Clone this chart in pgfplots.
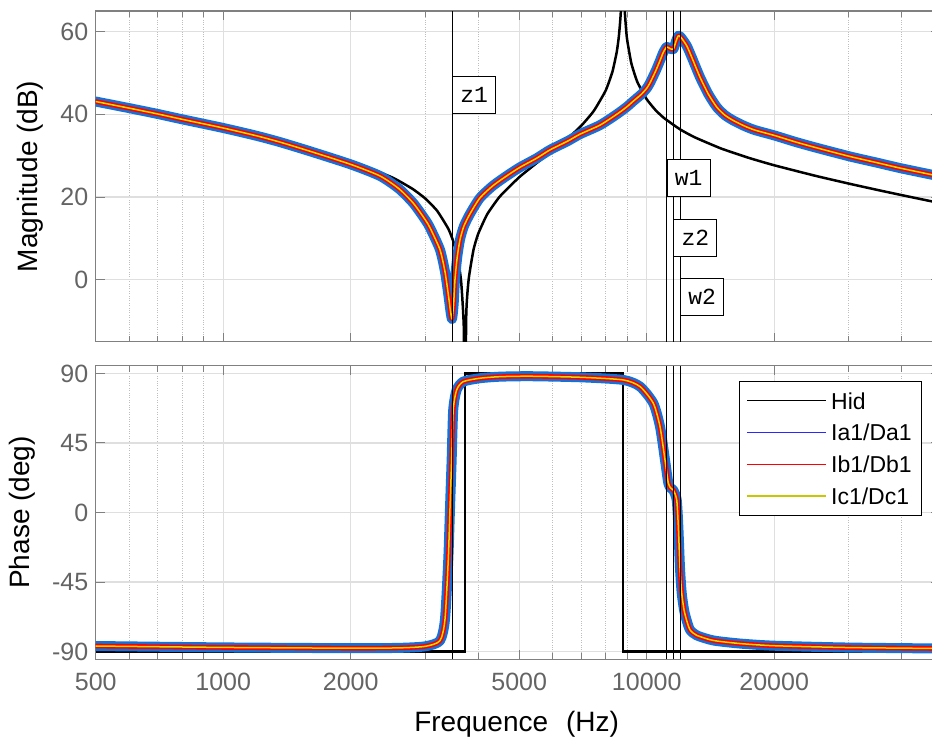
\documentclass[border=0pt]{standalone}
\usepackage{fontspec}
\setmainfont{Liberation Sans}
\newfontfamily\monofont{Liberation Mono}
\usepackage{pgfplots}
\usepackage{pgfplotstable}
\pgfplotsset{compat=1.18}
\definecolor{bandblue}{RGB}{24,112,214}
\definecolor{legblue}{RGB}{40,40,255}
\definecolor{myyellow}{RGB}{232,222,0}
\definecolor{legyellow}{RGB}{200,200,0}
\definecolor{axgray}{RGB}{128,128,128}
\definecolor{ticklab}{RGB}{100,100,100}
\definecolor{gridgray}{RGB}{223,223,223}
\definecolor{minorgray}{RGB}{190,190,190}

\pgfplotstableread{
f db
500 43.12
600 41.48
700 40.07
800 38.83
1000 36.69
1200 34.86
1500 32.43
2000 28.71
2500 24.79
2800 21.96
3000 19.64
3200 16.67
3400 12.34
3500 9.05
3600 3.75
3650 -0.94
3700 -11.85
3720 -40
3750 -8.30
3800 0.21
3900 7.24
4000 11.09
4200 15.80
4500 20.13
5000 24.79
5500 28.23
6000 31.22
6500 34.12
7000 37.20
7500 40.82
8000 45.76
8300 50.31
8500 55.19
8600 59.13
8700 66.26
8780 90
8850 67.6
8950 59.96
9000 57.76
9200 52.32
9500 47.87
10000 43.65
10500 40.99
11000 39.07
12000 36.34
13000 34.42
15000 31.72
17500 29.41
20000 27.68
25000 25.14
30000 23.25
35000 21.73
40000 20.46
49270 18.53
}\hidmag

\pgfplotstableread{
f db
500 43.1
600 41.5
700 40.1
800 38.8
1000 36.7
1200 34.8
1360 33.3
1600 31.1
2000 27.9
2345 25.1
2600 22.0
2812 18.5
3000 14.5
3077 12.6
3249 7.3
3339 2.0
3400 -3.5
3440 -7.5
3470 -9.5
3500 -6.0
3526 0.0
3570 5.5
3624 9.7
3700 12.9
3825 15.9
4040 19.8
4342 22.8
4700 25.3
5022 27.2
5500 29.4
5910 31.4
6500 33.5
6958 35.2
7759 37.4
8494 40.0
8971 41.8
9299 43.2
9700 44.8
10000 46.3
10178 47.6
10500 50.5
10750 53.0
10945 55.0
11150 56.3
11350 55.9
11560 55.8
11720 57.6
11875 59.0
12050 58.6
12430 56.6
12800 53.6
13360 49.0
14000 44.8
14650 41.7
15300 39.8
16020 38.5
17000 37.2
18000 36.2
20010 34.9
22500 33.3
25200 31.9
30210 29.8
35000 28.3
39660 27.0
47110 25.4
49270 25.0
}\colmag

\pgfplotstableread{
f deg
500 -90
3720 -90
3720 90
8780 90
8780 -90
49270 -90
}\hidph

\pgfplotstableread{
f deg
500 -86.4
1000 -87.3
2000 -87.8
2600 -87.6
3000 -86.6
3249 -83.0
3339 -69.4
3400 -30.6
3431 1.7
3463 34.0
3493 66.4
3558 79.3
3688 84.7
4040 86.9
4503 87.9
5302 88.2
7000 87.5
8805 85.8
9643 81.5
10366 70.7
10750 55.6
11046 34.0
11247 19.0
11400 15.8
11557 14.5
11772 8.2
11875 -9.0
11985 -36.0
12095 -52.0
12250 -63.0
12432 -70.0
12660 -76.0
13126 -79.5
14366 -82.8
16613 -84.8
20000 -86.2
30000 -87.4
49270 -88.0
}\colph

\tikzset{
  hid/.style={black, line width=2.5pt},
  cb/.style={bandblue, line width=10pt, line join=round, line cap=round},
  cr/.style={red, line width=4.7pt, line join=round, line cap=round},
  cy/.style={myyellow, line width=1.5pt, line join=round},
  vl/.style={black, line width=1pt},
  lab/.style={draw=black, line width=1pt, fill=white, anchor=west, inner sep=0pt,
    minimum width=43pt, minimum height=37pt, font=\monofont\fontsize{23}{26}\selectfont},
}

\begin{document}
\begin{tikzpicture}
\useasboundingbox (0pt,0pt) rectangle (932pt,-740pt);

% ---------------- Magnitude ----------------
\begin{axis}[
  xmode=log, xmin=500, xmax=49270,
  scale only axis, width=844.3pt, height=330.7pt,
  at={(95.7pt,-11pt)}, anchor=north west,
  axis line style={axgray, line width=1.2pt},
  tick style={axgray, line width=1pt},
  major tick length=9pt, minor tick length=6pt,
  tick align=inside, xtick pos=both, ytick pos=both,
  xtick={500,1000,2000,5000,10000,20000},
  minor xtick={600,700,800,900,3000,4000,6000,7000,8000,9000,30000,40000},
  xmajorgrids, xminorgrids, ymajorgrids,
  major grid style={gridgray, line width=1.2pt},
  minor grid style={minorgray, dotted, line width=0.9pt},
  tick label style={font=\fontsize{25}{30}\selectfont, text=ticklab},
  yticklabel style={xshift=-4pt},
  label style={font=\fontsize{28}{34}\selectfont, text=black},
  ylabel style={at={(axis description cs:-0.0778,0.5)}, anchor=center},
  ymin=-15, ymax=65,
  ytick={0,20,40,60}, yticklabels={0,20,40,60},
  xticklabels={},
  ylabel={Magnitude (dB)},
]
\addplot[hid, smooth, tension=0.3] table[x=f,y=db] {\hidmag};
\addplot[cb, smooth, tension=0.4] table[x=f,y=db] {\colmag};
\addplot[cr, smooth, tension=0.4] table[x=f,y=db] {\colmag};
\addplot[cy, smooth, tension=0.4] table[x=f,y=db] {\colmag};
\addplot[vl] coordinates {(3474,-15) (3474,65)};
\addplot[vl] coordinates {(11150,-15) (11150,65)};
\addplot[vl] coordinates {(11560,-15) (11560,65)};
\addplot[vl] coordinates {(11990,-15) (11990,65)};
\node[lab] at (axis cs:3474,44.6) {z1};
\node[lab] at (axis cs:11150,24.7) {w1};
\node[lab] at (axis cs:11560,10.1) {z2};
\node[lab] at (axis cs:11990,-4.2) {w2};
\end{axis}

% ---------------- Phase ----------------
\begin{axis}[
  xmode=log, xmin=500, xmax=49270,
  scale only axis, width=844.3pt, height=293.6pt,
  at={(95.7pt,-365.7pt)}, anchor=north west,
  axis line style={axgray, line width=1.2pt},
  tick style={axgray, line width=1pt},
  major tick length=9pt, minor tick length=6pt,
  tick align=inside, xtick pos=both, ytick pos=both,
  xtick={500,1000,2000,5000,10000,20000},
  minor xtick={600,700,800,900,3000,4000,6000,7000,8000,9000,30000,40000},
  xmajorgrids, xminorgrids, ymajorgrids,
  major grid style={gridgray, line width=1.2pt},
  minor grid style={minorgray, dotted, line width=0.9pt},
  tick label style={font=\fontsize{25}{30}\selectfont, text=ticklab},
  yticklabel style={xshift=-4pt},
  xticklabel style={yshift=-10pt},
  label style={font=\fontsize{28}{34}\selectfont, text=black},
  ylabel style={at={(axis description cs:-0.0867,0.5)}, anchor=center},
  ymin=-95, ymax=95,
  ytick={-90,-45,0,45,90}, yticklabels={-90,-45,0,45,90},
  xticklabels={500,1000,2000,5000,10000,20000},
  ylabel={Phase (deg)},
  xlabel={Frequence\hspace{18pt}(Hz)},
  xlabel style={at={(axis description cs:0.4986,-0.2204)}, anchor=center},
  legend style={at={(0.9783,0.949)}, anchor=north east, draw=black, line width=1pt,
    fill=white, font=\fontsize{23}{27}\selectfont, inner xsep=7.5pt, inner ysep=3.8pt,
    row sep=0pt, column sep=2pt,
    nodes={inner xsep=2pt, inner ysep=0pt, text height=24.1pt, text depth=7.6pt}},
  legend cell align=left,
  legend image code/.code={\draw[#1] (0pt,0pt) -- (79pt,0pt);},
]
\addplot[hid, forget plot] table[x=f,y=deg] {\hidph};
\addplot[cb, forget plot, smooth, tension=0.4] table[x=f,y=deg] {\colph};
\addplot[cr, forget plot, smooth, tension=0.4] table[x=f,y=deg] {\colph};
\addplot[cy, forget plot, smooth, tension=0.4] table[x=f,y=deg] {\colph};
\addplot[vl, forget plot] coordinates {(3474,-95) (3474,95)};
\addplot[vl, forget plot] coordinates {(11150,-95) (11150,95)};
\addplot[vl, forget plot] coordinates {(11560,-95) (11560,95)};
\addplot[vl, forget plot] coordinates {(11990,-95) (11990,95)};
\addlegendimage{black, line width=1.3pt}
\addlegendentry{Hid}
\addlegendimage{legblue, line width=1.3pt}
\addlegendentry{Ia1/Da1}
\addlegendimage{red, line width=1.3pt}
\addlegendentry{Ib1/Db1}
\addlegendimage{legyellow, line width=1.3pt}
\addlegendentry{Ic1/Dc1}
\end{axis}
\end{tikzpicture}
\end{document}
